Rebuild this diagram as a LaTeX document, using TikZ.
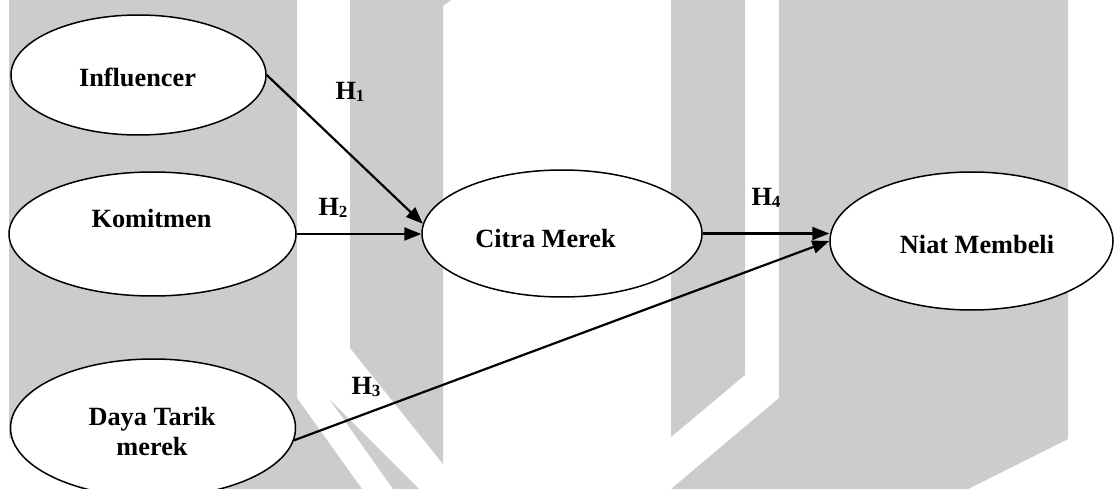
\documentclass[tikz,border=0pt]{standalone}
\usepackage{fontspec}
\setmainfont{Liberation Serif}
\usetikzlibrary{shapes.geometric,arrows.meta}
\definecolor{wm}{RGB}{204,204,204}
\newcommand\Hs[1]{H\raisebox{-1.5pt}{\fontsize{17}{17}\selectfont #1}}
\tikzset{
  var/.style={ellipse,draw=black,line width=1.5pt,fill=white,inner sep=0pt},
  vtext/.style={font=\fontsize{26.3}{30}\selectfont\bfseries,anchor=base,align=center,inner sep=0pt},
  hlab/.style={font=\fontsize{26.3}{30}\selectfont\bfseries,inner sep=0pt},
  arr/.style={line width=2.2pt,-{Triangle[length=17pt,width=13pt]}}
}
\begin{document}
\begin{tikzpicture}[x=1pt,y=-1pt]
\useasboundingbox (0,0) rectangle (1117,489);
\clip (0,0) rectangle (1117,489);
% watermark
\fill[wm] (9,0) -- (297,0) -- (297,398) -- (362,489) -- (133,489) -- (9,438) -- cycle;
\fill[wm] (330,400) -- (419,489) -- (393,489) -- cycle;
\fill[wm] (350,0) -- (451,0) -- (443,6) -- (443,464) -- (350,348) -- cycle;
\fill[wm] (671,0) -- (745,0) -- (745,375) -- (671,437) -- cycle;
\fill[wm] (779,0) -- (1068,0) -- (1068,439) -- (968,489) -- (671,489) -- (779,398) -- cycle;
% variables
\node[var,minimum width=255pt,minimum height=120pt] (inf) at (138.5,75) {};
\node[var,minimum width=287pt,minimum height=124pt] (kom) at (152.5,234) {};
\node[var,minimum width=285pt,minimum height=138pt] (dt) at (153,428) {};
\node[var,minimum width=280pt,minimum height=127pt] (cm) at (562,233.5) {};
\node[var,minimum width=283pt,minimum height=138pt] (nm) at (971.5,241) {};
\node[vtext] (inft) at (137.5,87) {Influencer};
\node[vtext] (komt) at (151.5,228) {Komitmen};
\node[vtext] (dtt) at (152,425) {Daya Tarik};
\node[vtext] (dtt2) at (152,455) {merek};
\node[vtext] (cmt) at (545.5,248) {Citra Merek};
\node[vtext] (nmt) at (977,254) {Niat Membeli};
% connectors
\draw[arr] (inf.east) -- (cm.176);
\draw[arr] (kom.east) -- (kom.east -| cm.west);
\draw[arr] (cm.east) -- (cm.east -| nm.west);
\draw[arr] (dt.-5.3) -- (nm.west);
% labels
\node[hlab] (h1) at (350,92) {\Hs{1}};
\node[hlab] (h2) at (333,208) {\Hs{2}};
\node[hlab] (h4) at (766,198) {\Hs{4}};
\node[hlab] (h3) at (366,387) {\Hs{3}};
\end{tikzpicture}
\end{document}
